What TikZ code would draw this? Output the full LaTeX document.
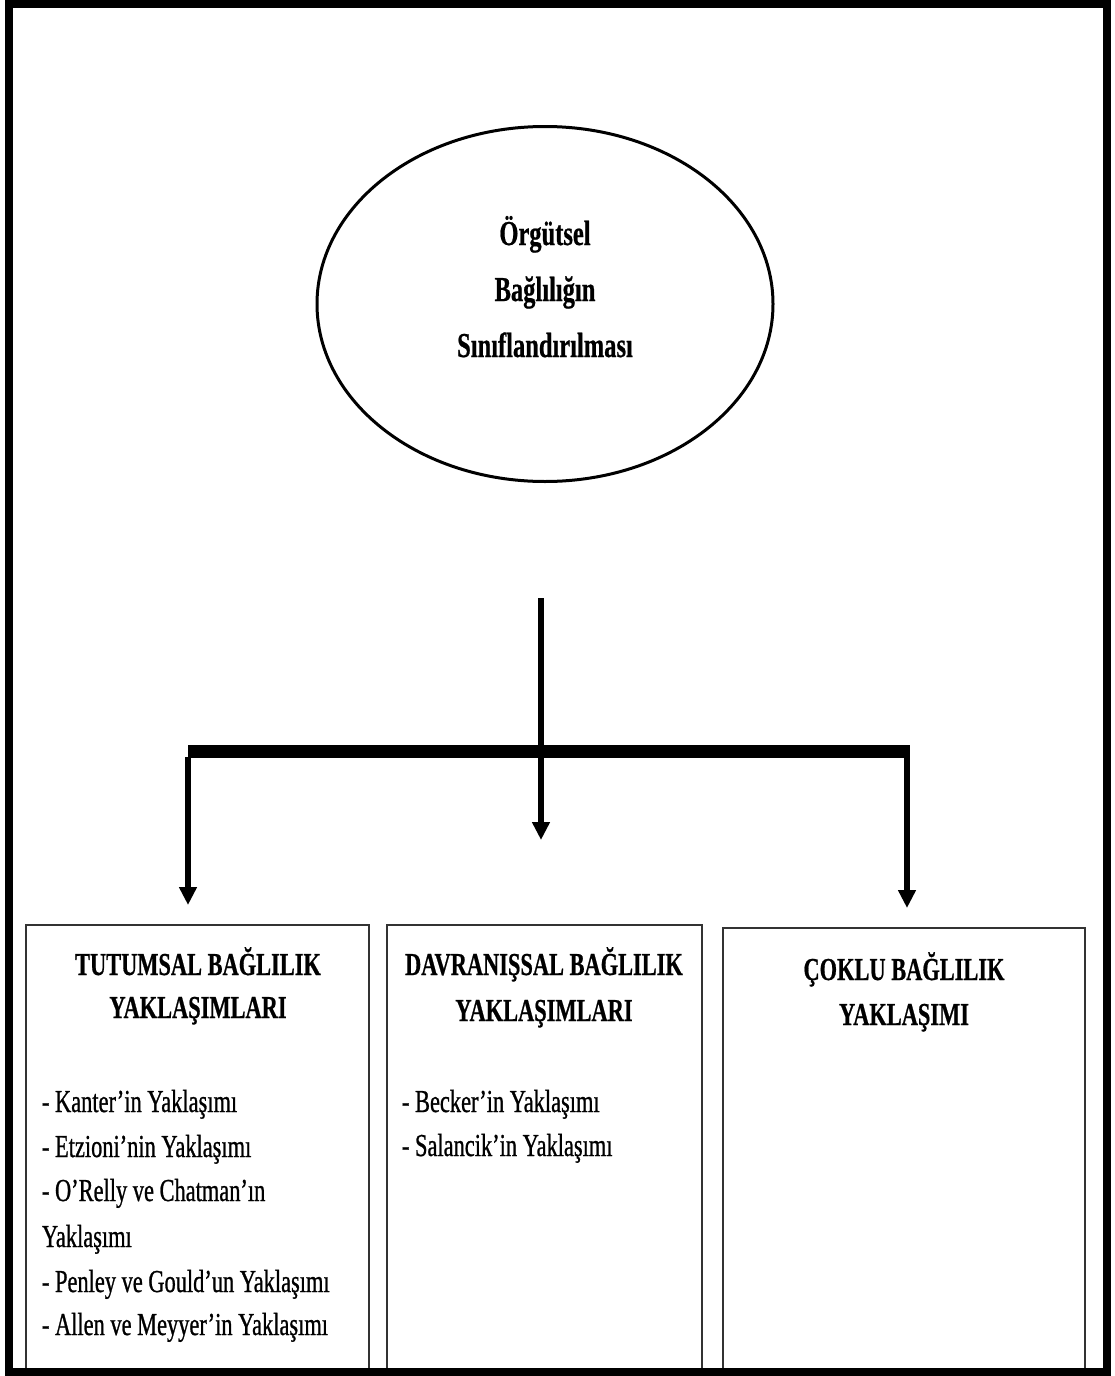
\documentclass[tikz,border=0pt]{standalone}
\usepackage{fontspec}
\setmainfont{Liberation Serif}[FakeStretch=0.70]
\newfontfamily\itemfont{Liberation Serif}[FakeStretch=0.70,FakeBold=0.8]
\newfontfamily\headfont{Liberation Serif Bold}[FakeStretch=0.70,FakeBold=0.6]
\usetikzlibrary{shapes.geometric,arrows.meta}
\begin{document}
\begin{tikzpicture}[x=1pt,y=-1pt,
  txt/.style={inner sep=0pt,outer sep=0pt},
  head/.style={txt,anchor=base,font=\fontsize{32}{38}\headfont},
  ehead/.style={txt,anchor=base,font=\fontsize{35}{40}\headfont},
  item/.style={txt,anchor=base west,font=\fontsize{32}{38}\itemfont},
  boxnode/.style={draw=black!80,line width=1.6pt,inner sep=0pt,outer sep=0pt},
  conn/.style={line width=6pt,-{Triangle[width=17pt,length=18pt]}},
  barline/.style={line width=13pt}]
\useasboundingbox (0,0) rectangle (1114,1376);
\fill[white] (0,0) rectangle (1114,1376);
% ellipse
\node[ellipse,draw,line width=3pt,minimum width=456pt,minimum height=355pt,inner sep=0pt] (top) at (545,304) {};
\node[ehead] (t1) at (545,245) {Örgütsel};
\node[ehead] (t2) at (545,301) {Bağlılığın};
\node[ehead] (t3) at (545,357) {Sınıflandırılması};
% boxes
\node[boxnode,minimum width=343pt,minimum height=447pt] (box1) at (197.5,1148.5) {};
\node[boxnode,minimum width=315pt,minimum height=447pt] (box2) at (544.5,1148.5) {};
\node[boxnode,minimum width=362pt,minimum height=444pt] (box3) at (904,1150) {};
% connectors
\coordinate (stem) at (541,598);
\coordinate (barL) at (188,751);
\coordinate (barR) at (910,751);
\draw[barline] (barL) -- (barR);
\draw[conn,shorten >=85pt] (stem) -- (stem |- box2.north);
\draw[conn,shorten >=20pt] ([yshift=-6pt]barL) -- (barL |- box1.north);
\draw[conn,shorten >=20pt] ([xshift=-3pt,yshift=-6pt]barR) -- ([xshift=-3pt]barR |- box3.north);
% box 1 text
\node[head] (h1a) at (198,975) {TUTUMSAL BAĞLILIK};
\node[head] (h1b) at (198,1018) {YAKLAŞIMLARI};
\node[item] (a1) at (42,1112) {- Kanter’in Yaklaşımı};
\node[item] (a2) at (42,1157) {- Etzioni’nin Yaklaşımı};
\node[item] (a3) at (42,1201) {- O’Relly ve Chatman’ın};
\node[item] (a4) at (42,1247) {Yaklaşımı};
\node[item] (a5) at (42,1292) {- Penley ve Gould’un Yaklaşımı};
\node[item] (a6) at (42,1335) {- Allen ve Meyyer’in Yaklaşımı};
% box 2 text
\node[head] (h2a) at (544,975) {DAVRANIŞSAL BAĞLILIK};
\node[head] (h2b) at (544,1021) {YAKLAŞIMLARI};
\node[item] (b1) at (402,1112) {- Becker’in Yaklaşımı};
\node[item] (b2) at (402,1156) {- Salancik’in Yaklaşımı};
% box 3 text
\node[head] (h3a) at (904,980) {ÇOKLU BAĞLILIK};
\node[head] (h3b) at (904,1025) {YAKLAŞIMI};
% outer frame
\draw[line width=8pt] (9,4) rectangle (1107,1372);
\end{tikzpicture}
\end{document}
